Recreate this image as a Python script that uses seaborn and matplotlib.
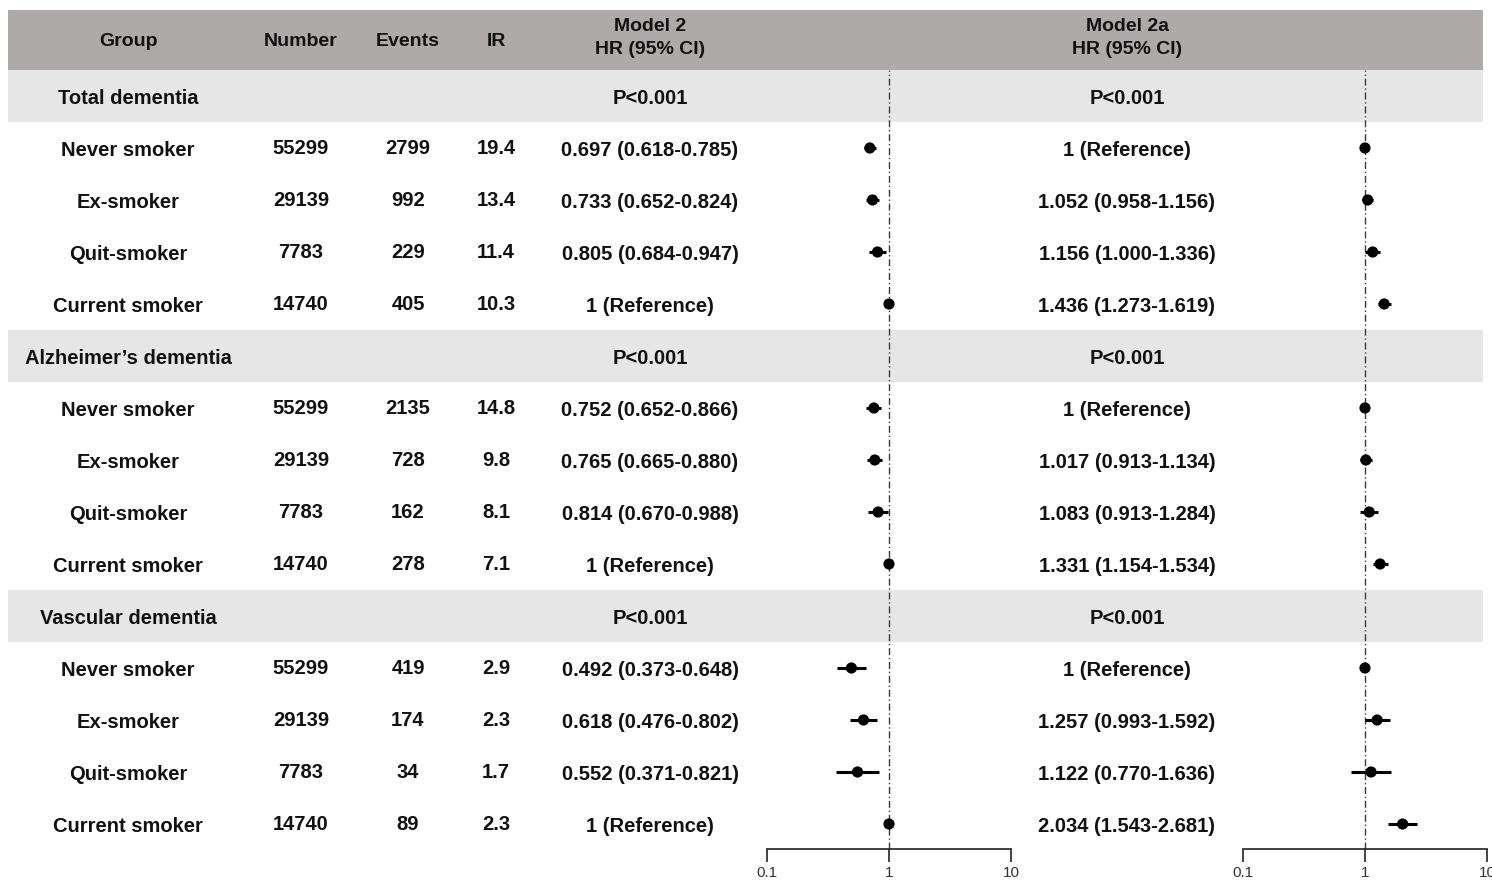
import matplotlib
matplotlib.use("Agg")
import matplotlib.pyplot as plt
from matplotlib.patches import Rectangle
import numpy as np
import pandas as pd
import seaborn as sns

sns.set_theme(style="white")
plt.rcParams["font.family"] = ["Liberation Sans", "DejaVu Sans"]

# ── data ──
sections = ["Total dementia", "Alzheimer\u2019s dementia", "Vascular dementia"]
groups = ["Never smoker", "Ex-smoker", "Quit-smoker", "Current smoker"]
numbers = [55299, 29139, 7783, 14740]
events = [[2799, 992, 229, 405], [2135, 728, 162, 278], [419, 174, 34, 89]]
ir = [[19.4, 13.4, 11.4, 10.3], [14.8, 9.8, 8.1, 7.1], [2.9, 2.3, 1.7, 2.3]]
p_model2 = ["P<0.001", "P<0.001", "P<0.001"]
p_model2a = ["P<0.001", "P<0.001", "P<0.001"]

# (hr, lo, hi); None = reference group
model2 = [
    [(0.697, 0.618, 0.785), (0.733, 0.652, 0.824), (0.805, 0.684, 0.947), None],
    [(0.752, 0.652, 0.866), (0.765, 0.665, 0.880), (0.814, 0.670, 0.988), None],
    [(0.492, 0.373, 0.648), (0.618, 0.476, 0.802), (0.552, 0.371, 0.821), None],
]
model2a = [
    [None, (1.052, 0.958, 1.156), (1.156, 1.000, 1.336), (1.436, 1.273, 1.619)],
    [None, (1.017, 0.913, 1.134), (1.083, 0.913, 1.284), (1.331, 1.154, 1.534)],
    [None, (1.257, 0.993, 1.592), (1.122, 0.770, 1.636), (2.034, 1.543, 2.681)],
]

# ── layout (pixels) ──
W, H = 1492, 881
ROW0, ROW_H = 96, 52
TXT = "#111111"
HEAD_BG = "#aeaaaa"
BAND_BG = "#e7e6e6"
COLS = {"group": 128, "number": 301, "events": 408, "ir": 496, "m2": 650, "m2a": 1127}
DY = 2  # small baseline nudge


def fmt(v):
    if v is None:
        return "1 (Reference)"
    return f"{v[0]:.3f} ({v[1]:.3f}-{v[2]:.3f})"


def build_df(model):
    rows = []
    for s, sec in enumerate(model):
        for g, v in enumerate(sec):
            r = s * 5 + g + 1
            hr, lo, hi = (1.0, 1.0, 1.0) if v is None else v
            rows.append({"row": r, "hr": hr, "lo": lo, "hi": hi})
    return pd.DataFrame(rows)


fig = plt.figure(figsize=(W / 100, H / 100), dpi=100)
ax = fig.add_axes([0, 0, 1, 1])
ax.set_xlim(0, W)
ax.set_ylim(H, 0)
ax.axis("off")

# header band
ax.add_patch(Rectangle((8, 10), 1475, 60, color=HEAD_BG, lw=0))
kw = dict(ha="center", va="center", color=TXT, fontsize=14.5, fontweight="bold")
hkw = dict(kw, fontsize=14)
ax.text(COLS["group"], 41, "Group", **hkw)
ax.text(COLS["number"], 41, "Number", **hkw)
ax.text(COLS["events"], 41, "Events", **hkw)
ax.text(COLS["ir"], 41, "IR", **hkw)
ax.text(COLS["m2"], 38, "Model 2\nHR (95% CI)", linespacing=1.4, **hkw)
ax.text(COLS["m2a"], 38, "Model 2a\nHR (95% CI)", linespacing=1.4, **hkw)

for s, sec in enumerate(sections):
    y = ROW0 + ROW_H * s * 5 + DY
    ax.add_patch(Rectangle((8, y - DY - 26), 1475, 52, color=BAND_BG, lw=0))
    ax.text(COLS["group"], y, sec, **kw)
    ax.text(COLS["m2"], y, p_model2[s], **kw)
    ax.text(COLS["m2a"], y, p_model2a[s], **kw)
    for g, grp in enumerate(groups):
        yy = ROW0 + ROW_H * (s * 5 + g + 1) + DY
        ax.text(COLS["group"], yy + 1, grp, **kw)
        ax.text(COLS["number"], yy - 1, str(numbers[g]), **kw)
        ax.text(COLS["events"], yy - 1, str(events[s][g]), **kw)
        ax.text(COLS["ir"], yy - 1, f"{ir[s][g]:.1f}", **kw)
        ax.text(COLS["m2"], yy, fmt(model2[s][g]), **kw)
        ax.text(COLS["m2a"], yy, fmt(model2a[s][g]), **kw)

# ── forest panels ──
top_px, axis_px = 70, 849
for left_px, model in [(767, model2), (1243, model2a)]:
    fax = fig.add_axes([left_px / W, 1 - axis_px / H, 244 / W, (axis_px - top_px) / H])
    fax.patch.set_alpha(0)
    df = build_df(model)
    fax.set_xscale("log")
    fax.axvline(1, color="#3a3a3a", lw=1.0, ls=(0, (5, 2, 1, 2)), zorder=1)
    fax.hlines(df["row"], df["lo"], df["hi"], color="black", lw=2.2, zorder=2)
    sns.scatterplot(data=df, x="hr", y="row", ax=fax, color="black", s=65,
                    edgecolor="none", zorder=3, legend=False)
    fax.set_xlim(0.1, 10)
    fax.set_ylim((axis_px - ROW0) / ROW_H, (top_px - ROW0) / ROW_H)
    fax.set_xticks([0.1, 1, 10])
    fax.set_xticklabels(["0.1", "1", "10"])
    fax.minorticks_off()
    fax.tick_params(axis="x", direction="out", length=9, width=1.2, color="#222222",
                    labelsize=11, labelcolor="#333333", pad=3, bottom=True)
    fax.set_yticks([])
    fax.set_xlabel("")
    fax.set_ylabel("")
    for sp in ["top", "left", "right"]:
        fax.spines[sp].set_visible(False)
    fax.spines["bottom"].set_color("#222222")
    fax.spines["bottom"].set_linewidth(1.2)

fig.savefig("out.png", dpi=100)
